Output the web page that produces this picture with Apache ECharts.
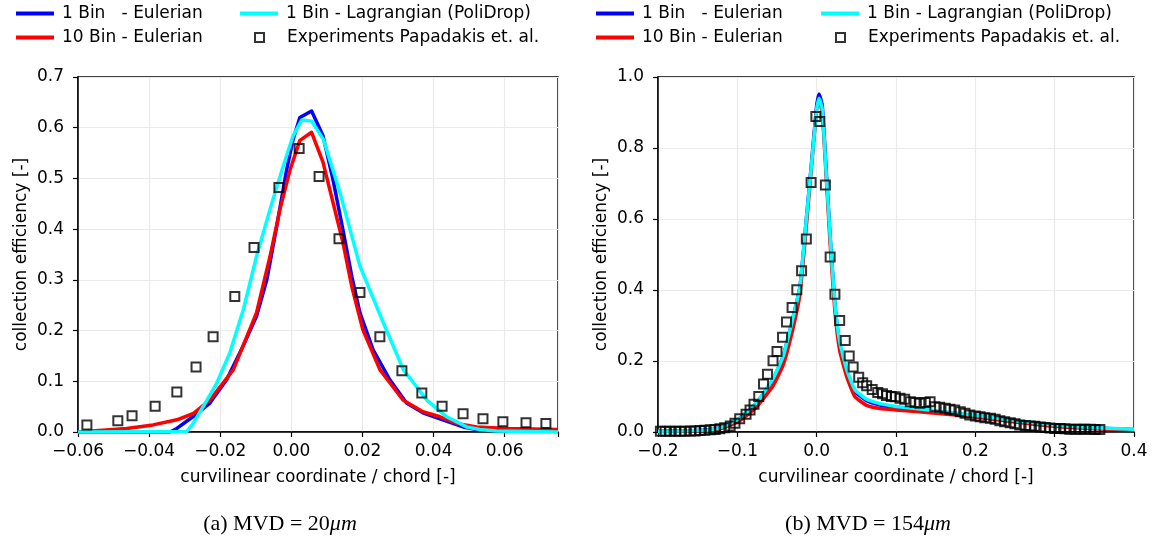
<!DOCTYPE html>
<html>
<head>
<meta charset="utf-8">
<script src="https://cdn.jsdelivr.net/npm/echarts@6/dist/echarts.min.js"></script>
<style>html,body{margin:0;padding:0;background:#fff}#c{width:1153px;height:543px}</style>
</head>
<body>
<div id="c"></div>
<script>
// ---------- DATA ----------
const seriesNames = ['1 Bin   - Eulerian', '10 Bin - Eulerian', '1 Bin - Lagrangian (PoliDrop)', 'Experiments Papadakis et. al.'];
const captions = ['(a) MVD = 20{it|μm}', '(b) MVD = 154{it|μm}'];
const axisTitleX = 'curvilinear coordinate / chord [-]';
const axisTitleY = 'collection efficiency [-]';

// (a) MVD = 20 um
const a_eul1 = [[-0.06,0],[-0.0341,0],[-0.0322,0.007],[-0.0277,0.030],[-0.0229,0.057],[-0.0182,0.103],[-0.0136,0.169],[-0.0098,0.228],[-0.0069,0.300],[-0.0041,0.406],[-0.0013,0.518],[0.0005,0.577],[0.0024,0.620],[0.0057,0.633],[0.0089,0.584],[0.0117,0.498],[0.0145,0.399],[0.0170,0.307],[0.0193,0.235],[0.0230,0.162],[0.0277,0.103],[0.0324,0.057],[0.0370,0.038],[0.0426,0.024],[0.0483,0.010],[0.0521,0.005],[0.0559,0.003],[0.075,0.001]];
const a_eul10 = [[-0.06,0],[-0.0463,0.007],[-0.0389,0.014],[-0.0322,0.024],[-0.0277,0.036],[-0.0229,0.063],[-0.0163,0.123],[-0.0098,0.235],[-0.0060,0.346],[-0.0032,0.439],[-0.0004,0.516],[0.0024,0.575],[0.0057,0.591],[0.0089,0.532],[0.0117,0.453],[0.0145,0.374],[0.0170,0.287],[0.0201,0.202],[0.0249,0.123],[0.0314,0.063],[0.0370,0.040],[0.0418,0.030],[0.0465,0.017],[0.0521,0.010],[0.0606,0.007],[0.075,0.005]];
const a_lag1 = [[-0.06,0],[-0.0294,0.001],[-0.0276,0.017],[-0.0248,0.050],[-0.0210,0.096],[-0.0173,0.156],[-0.0135,0.241],[-0.0098,0.346],[-0.0060,0.439],[-0.0023,0.524],[0.0005,0.584],[0.0029,0.615],[0.0057,0.613],[0.0090,0.577],[0.0137,0.472],[0.0193,0.327],[0.0259,0.215],[0.0315,0.123],[0.0381,0.063],[0.0437,0.030],[0.0493,0.010],[0.0530,0.005],[0.0577,0.002],[0.075,0]];
const a_exp = [[-0.0575,0.014],[-0.0488,0.022],[-0.0448,0.032],[-0.0383,0.051],[-0.0322,0.079],[-0.0268,0.128],[-0.0220,0.188],[-0.0159,0.267],[-0.0105,0.364],[-0.0035,0.482],[0.0022,0.559],[0.0078,0.504],[0.0134,0.381],[0.0193,0.275],[0.0249,0.188],[0.0311,0.121],[0.0367,0.077],[0.0424,0.051],[0.0483,0.036],[0.0539,0.026],[0.0595,0.020],[0.0660,0.018],[0.0716,0.017]];

// (b) MVD = 154 um
const b_eul1 = [[-0.2,0.002],[-0.15,0.004],[-0.13,0.008],[-0.118,0.015],[-0.097,0.039],[-0.076,0.081],[-0.055,0.148],[-0.042,0.215],[-0.029,0.33],[-0.021,0.41],[-0.013,0.6],[-0.006,0.77],[0.0,0.92],[0.003,0.952],[0.007,0.92],[0.012,0.74],[0.017,0.55],[0.023,0.36],[0.029,0.25],[0.038,0.17],[0.048,0.115],[0.063,0.088],[0.08,0.076],[0.1,0.069],[0.15,0.058],[0.2,0.045],[0.25,0.030],[0.3,0.018],[0.35,0.011],[0.4,0.007]];
const b_eul10 = [[-0.2,0.001],[-0.15,0.003],[-0.13,0.006],[-0.118,0.012],[-0.097,0.032],[-0.076,0.07],[-0.055,0.13],[-0.042,0.19],[-0.029,0.3],[-0.021,0.39],[-0.013,0.58],[-0.006,0.76],[0.0,0.91],[0.003,0.935],[0.007,0.9],[0.012,0.72],[0.017,0.53],[0.023,0.34],[0.029,0.23],[0.038,0.155],[0.048,0.1],[0.063,0.075],[0.08,0.066],[0.1,0.062],[0.15,0.053],[0.2,0.042],[0.25,0.028],[0.3,0.016],[0.35,0.009],[0.4,0.005]];
const b_lag1 = [[-0.2,0.002],[-0.15,0.004],[-0.13,0.008],[-0.118,0.015],[-0.097,0.039],[-0.076,0.082],[-0.055,0.15],[-0.042,0.215],[-0.029,0.33],[-0.021,0.41],[-0.013,0.6],[-0.006,0.765],[0.0,0.91],[0.003,0.94],[0.007,0.91],[0.012,0.73],[0.017,0.55],[0.023,0.36],[0.029,0.255],[0.038,0.175],[0.048,0.12],[0.063,0.092],[0.08,0.08],[0.1,0.072],[0.15,0.06],[0.2,0.047],[0.25,0.032],[0.3,0.02],[0.35,0.012],[0.4,0.008]];
const b_exp = [[-0.197,0.002],[-0.191,0.002],[-0.185,0.002],[-0.178,0.002],[-0.172,0.002],[-0.166,0.002],[-0.159,0.003],[-0.153,0.003],[-0.147,0.004],[-0.141,0.005],[-0.134,0.006],[-0.128,0.007],[-0.122,0.009],[-0.116,0.012],[-0.109,0.017],[-0.103,0.025],[-0.097,0.037],[-0.089,0.050],[-0.084,0.062],[-0.079,0.078],[-0.073,0.100],[-0.067,0.135],[-0.062,0.163],[-0.055,0.201],[-0.050,0.227],[-0.043,0.267],[-0.038,0.310],[-0.031,0.351],[-0.025,0.401],[-0.019,0.454],[-0.013,0.544],[-0.007,0.703],[-0.001,0.889],[0.004,0.875],[0.011,0.696],[0.017,0.493],[0.023,0.388],[0.029,0.314],[0.036,0.258],[0.041,0.214],[0.046,0.183],[0.053,0.154],[0.058,0.139],[0.063,0.130],[0.070,0.120],[0.077,0.111],[0.083,0.108],[0.088,0.103],[0.094,0.100],[0.099,0.099],[0.105,0.095],[0.111,0.092],[0.118,0.085],[0.124,0.083],[0.130,0.081],[0.137,0.083],[0.143,0.085],[0.149,0.071],[0.155,0.070],[0.162,0.067],[0.168,0.064],[0.174,0.062],[0.181,0.057],[0.187,0.053],[0.193,0.048],[0.200,0.045],[0.206,0.043],[0.212,0.040],[0.219,0.039],[0.225,0.036],[0.231,0.032],[0.237,0.029],[0.244,0.026],[0.250,0.023],[0.256,0.020],[0.263,0.018],[0.269,0.017],[0.275,0.016],[0.282,0.014],[0.288,0.013],[0.294,0.011],[0.300,0.010],[0.307,0.010],[0.313,0.009],[0.319,0.008],[0.326,0.008],[0.332,0.008],[0.338,0.008],[0.345,0.008],[0.351,0.007],[0.357,0.007]];

// ---------- CHART ----------
const FONT = 'DejaVu Sans';
const FS = 17;
const colors = ['#0000ff', '#ff0000', '#00ffff'];
const fmtNum = (d) => (v) => { const s = v.toFixed(d); return (parseFloat(s) < 0 ? s.replace('-', '\u2212') : s.replace('-', '')); };

function xAxisOpt(gi, min, max, step, dec) {
  return {
    type: 'value', gridIndex: gi, min, max, interval: step,
    name: axisTitleX, nameLocation: 'middle', nameGap: 37,
    nameTextStyle: { fontFamily: FONT, fontSize: FS, color: '#000' },
    axisLine: { show: true, onZero: false, lineStyle: { color: '#000', width: 1.5 } },
    axisTick: { show: true, inside: false, length: 5, lineStyle: { color: '#000', width: 1.2 } },
    axisLabel: { margin: 11, fontFamily: FONT, fontSize: FS, color: '#000',
      formatter: (v) => { const k = v / step; if (Math.abs(k - Math.round(k)) > 1e-6) return ''; return fmtNum(dec)(v); } },
    splitLine: { show: true, lineStyle: { color: '#ebebeb', width: 1.2 } }
  };
}
function yAxisOpt(gi, max, step) {
  return {
    type: 'value', gridIndex: gi, min: 0, max, interval: step,
    name: axisTitleY, nameLocation: 'middle', nameGap: 48,
    nameTextStyle: { fontFamily: FONT, fontSize: FS, color: '#000' },
    axisLine: { show: true, onZero: false, lineStyle: { color: '#000', width: 1.5 } },
    axisTick: { show: true, inside: false, length: 5, lineStyle: { color: '#000', width: 1.2 } },
    axisLabel: { margin: 14, fontFamily: FONT, fontSize: FS, color: '#000', formatter: fmtNum(1) },
    splitLine: { show: true, lineStyle: { color: '#ebebeb', width: 1.2 } }
  };
}
function lineSeries(name, data, idx, gi, w, sm) {
  return { type: 'line', name, data, xAxisIndex: gi, yAxisIndex: gi, showSymbol: false, symbol: 'none',
    smooth: sm, color: colors[idx], lineStyle: { color: colors[idx], width: w, join: 'round' }, z: 2 + idx, animation: false };
}
function expSeries(data, gi) {
  return { type: 'scatter', name: seriesNames[3], data, xAxisIndex: gi, yAxisIndex: gi, symbol: 'rect', symbolSize: 9,
    itemStyle: { color: 'rgba(0,0,0,0)', borderColor: '#000', borderWidth: 2 }, z: 10, animation: false };
}
function legendLine(name, left, top) {
  return { data: [{ name, icon: 'rect' }], left, top, itemWidth: 38, itemHeight: 4, symbolKeepAspect: false,
    textStyle: { fontFamily: FONT, fontSize: FS, color: '#000', padding: [0, 0, 0, 3] }, selectedMode: false };
}
function legendExp(left, top) {
  return { data: [{ name: seriesNames[3], icon: 'rect', itemStyle: { color: 'rgba(0,0,0,0)', borderColor: '#000', borderWidth: 2 } }],
    left, top, itemWidth: 9, itemHeight: 9,
    textStyle: { fontFamily: FONT, fontSize: FS, color: '#000', padding: [0, 0, 0, 18] }, selectedMode: false };
}

const chart = echarts.init(document.getElementById('c'), null, { renderer: 'canvas' });
chart.setOption({
  backgroundColor: '#fff',
  animation: false,
  grid: [
    { left: 78, top: 77, width: 480, height: 355, show: true, borderColor: '#000', borderWidth: 1.5, backgroundColor: 'transparent' },
    { left: 658, top: 77, width: 476, height: 355, show: true, borderColor: '#000', borderWidth: 1.5, backgroundColor: 'transparent' }
  ],
  xAxis: [xAxisOpt(0, -0.06, 0.075, 0.02, 2), xAxisOpt(1, -0.2, 0.4, 0.1, 1)],
  yAxis: [yAxisOpt(0, 0.7, 0.1), yAxisOpt(1, 1.0, 0.2)],
  legend: [
    legendLine(seriesNames[0], 11, 0), legendLine(seriesNames[1], 11, 24),
    legendLine(seriesNames[2], 235, 0), legendExp(249, 24),
    legendLine(seriesNames[0], 591, 0), legendLine(seriesNames[1], 591, 24),
    legendLine(seriesNames[2], 816, 0), legendExp(830, 24)
  ],
  series: [
    lineSeries(seriesNames[0], a_eul1, 0, 0, 3.5, false),
    lineSeries(seriesNames[1], a_eul10, 1, 0, 3.5, false),
    lineSeries(seriesNames[2], a_lag1, 2, 0, 3.5, false),
    expSeries(a_exp, 0),
    lineSeries(seriesNames[0], b_eul1, 0, 1, 3.5, 0.15),
    lineSeries(seriesNames[1], b_eul10, 1, 1, 3.5, 0.15),
    lineSeries(seriesNames[2], b_lag1, 2, 1, 3.5, 0.15),
    expSeries(b_exp, 1)
  ],
  graphic: [
    { type: 'text', x: 280, y: 524, style: { text: captions[0], fontFamily: 'Liberation Serif', fontSize: 22, fill: '#000', align: 'center', verticalAlign: 'middle',
      rich: { it: { fontStyle: 'italic', fontFamily: 'Liberation Serif', fontSize: 22 } } } },
    { type: 'text', x: 868, y: 524, style: { text: captions[1], fontFamily: 'Liberation Serif', fontSize: 22, fill: '#000', align: 'center', verticalAlign: 'middle',
      rich: { it: { fontStyle: 'italic', fontFamily: 'Liberation Serif', fontSize: 22 } } } }
  ]
});
</script>
</body>
</html>
